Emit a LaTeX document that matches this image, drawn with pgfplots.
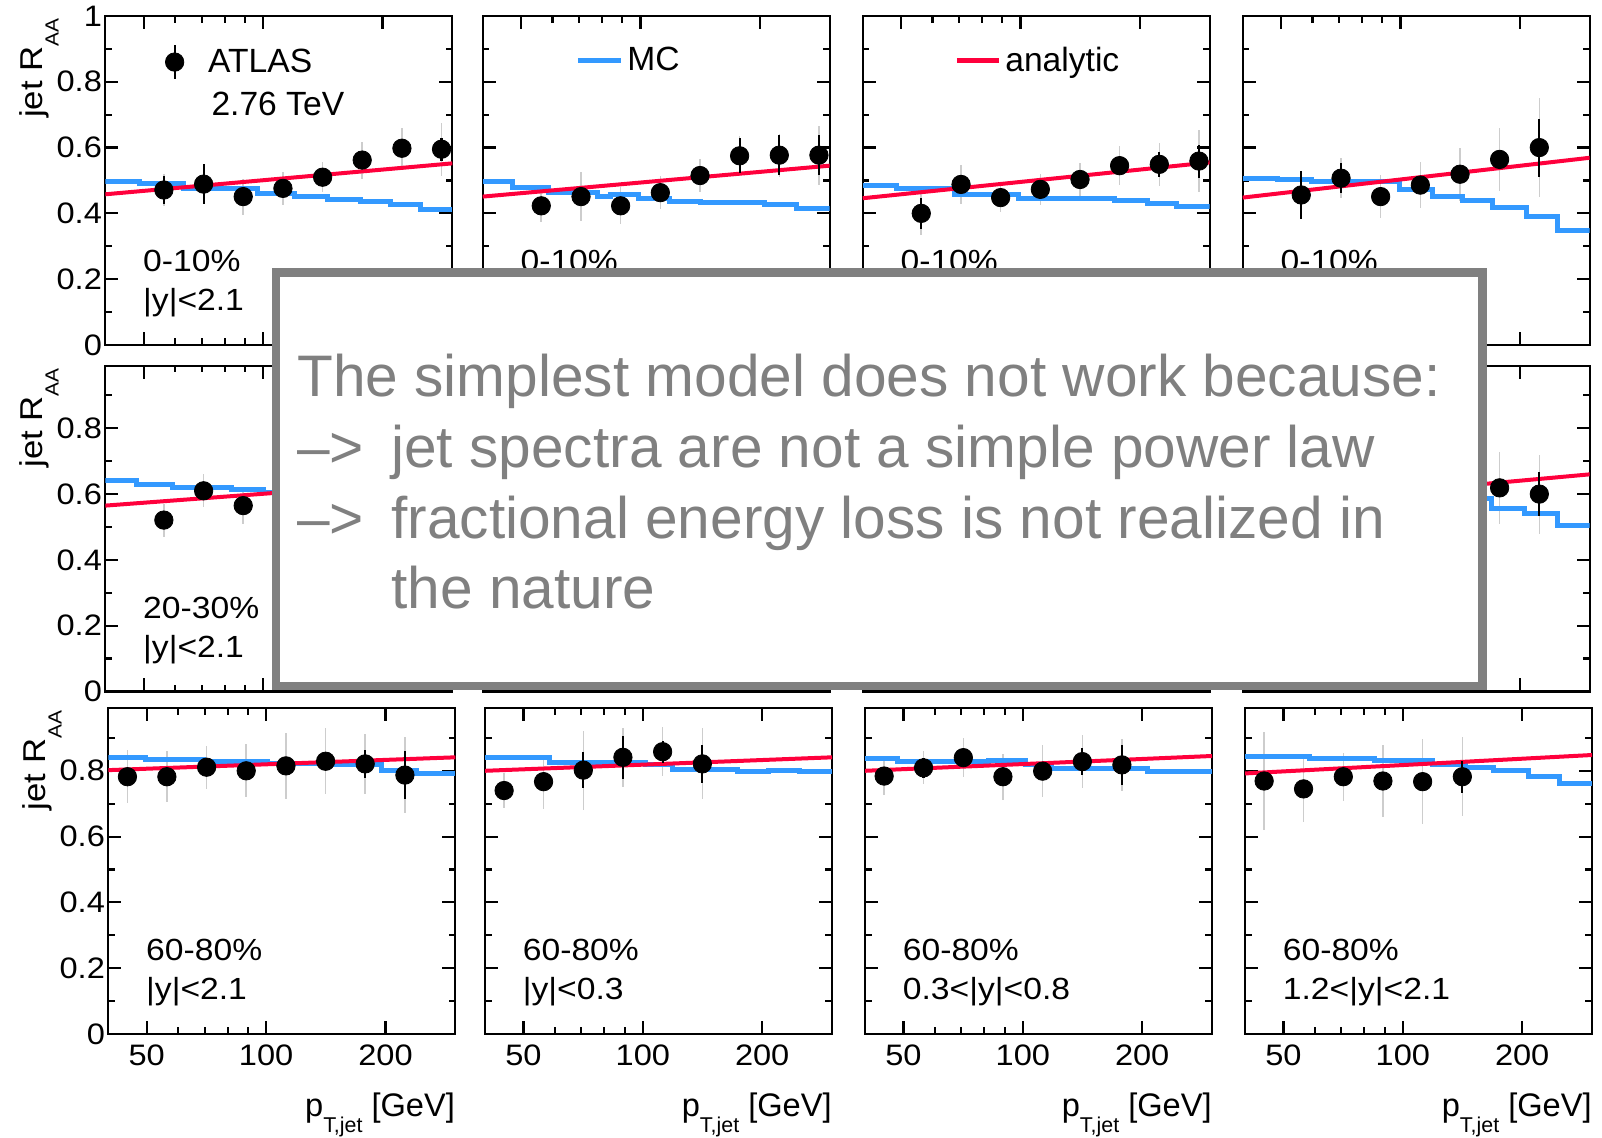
\documentclass[border=0pt]{standalone}
\usepackage{fontspec}
\setmainfont{Liberation Sans}
\newfontfamily\chartfont[FakeStretch=1.1]{Liberation Sans}
\usepackage{pgfplots}
\usepackage{pgfplotstable}
\pgfplotsset{compat=1.18}

\definecolor{mcblue}{RGB}{51,153,255}
\definecolor{anred}{RGB}{255,0,60}
\definecolor{boxgray}{RGB}{128,128,128}
\definecolor{sysgray}{RGB}{205,205,205}

\pgfplotstableread{
x y stat sys
56.2 0.471 0.042 0.050
70.8 0.489 0.062 0.060
89.1 0.451 0.020 0.055
112.2 0.476 0.015 0.050
141.3 0.510 0.020 0.045
177.8 0.562 0.015 0.056
223.9 0.598 0.015 0.060
281.8 0.595 0.035 0.080
}\dataA
\pgfplotstableread{
x y stat sys
56.2 0.423 0.015 0.050
70.8 0.451 0.015 0.075
89.1 0.423 0.015 0.056
112.2 0.463 0.015 0.050
141.3 0.515 0.015 0.050
177.8 0.575 0.053 0.060
223.9 0.577 0.060 0.065
281.8 0.577 0.060 0.090
}\dataB
\pgfplotstableread{
x y stat sys
56.2 0.400 0.046 0.066
70.8 0.488 0.030 0.058
89.1 0.448 0.015 0.045
112.2 0.473 0.015 0.047
141.3 0.503 0.015 0.050
177.8 0.545 0.015 0.060
223.9 0.549 0.038 0.066
281.8 0.559 0.050 0.095
}\dataC
\pgfplotstableread{
x y stat sys
56.2 0.456 0.073 0.073
70.8 0.507 0.045 0.060
89.1 0.451 0.015 0.065
112.2 0.486 0.015 0.070
141.3 0.519 0.015 0.080
177.8 0.564 0.015 0.095
223.9 0.600 0.088 0.150
}\dataD
\pgfplotstableread{
x y stat sys
56.2 0.521 0.015 0.050
70.8 0.610 0.015 0.050
89.1 0.565 0.015 0.055
}\dataE
\pgfplotstableread{
x y stat sys
177.8 0.619 0.020 0.110
223.9 0.600 0.067 0.120
}\dataH
\pgfplotstableread{
x y stat sys
44.7 0.782 0.015 0.080
56.2 0.782 0.015 0.077
70.8 0.811 0.015 0.065
89.1 0.800 0.015 0.080
112.2 0.815 0.015 0.100
141.3 0.829 0.015 0.100
177.8 0.821 0.043 0.090
223.9 0.787 0.072 0.115
}\dataI
\pgfplotstableread{
x y stat sys
44.7 0.740 0.030 0.054
56.2 0.767 0.020 0.082
70.8 0.802 0.055 0.120
89.1 0.841 0.065 0.090
112.2 0.858 0.033 0.075
141.3 0.821 0.057 0.108
}\dataJ
\pgfplotstableread{
x y stat sys
44.7 0.784 0.015 0.058
56.2 0.809 0.030 0.050
70.8 0.840 0.025 0.060
89.1 0.782 0.015 0.070
112.2 0.799 0.015 0.080
141.3 0.828 0.040 0.080
177.8 0.818 0.060 0.080
}\dataK
\pgfplotstableread{
x y stat sys
44.7 0.769 0.015 0.150
56.2 0.745 0.015 0.100
70.8 0.782 0.015 0.073
89.1 0.769 0.015 0.110
112.2 0.767 0.015 0.130
141.3 0.782 0.048 0.120
}\dataL

\pgfplotstableread{
x y
40 0.498
48.7 0.491
62.9 0.476
97 0.461
120 0.451
145 0.443
176 0.436
209 0.426
249 0.411
300 0.411
}\mcA
\pgfplotstableread{
x y
40 0.496
47.6 0.478
58.6 0.463
78.1 0.451
84.2 0.458
99 0.446
118.6 0.436
142 0.433
206 0.426
247 0.416
300 0.416
}\mcB
\pgfplotstableread{
x y
40 0.486
48.7 0.476
68.3 0.458
99 0.446
173 0.438
208.6 0.429
247 0.421
300 0.421
}\mcC
\pgfplotstableread{
x y
40 0.507
49 0.502
59.5 0.497
99.4 0.473
120.5 0.451
143 0.438
171 0.419
207.6 0.392
249 0.349
300 0.349
}\mcD
\pgfplotstableread{
x y
40 0.641
48 0.628
59 0.621
83 0.614
100 0.605
120 0.597
143 0.590
172 0.580
207 0.570
248 0.560
300 0.560
}\mcE
\pgfplotstableread{
x y
40 0.640
58 0.635
83 0.625
100 0.615
120 0.600
143 0.587
170 0.557
206 0.542
249 0.506
300 0.506
}\mcH
\pgfplotstableread{
x y
40 0.840
49.6 0.833
69.5 0.828
101 0.823
147 0.818
196 0.802
240 0.792
300 0.792
}\mcI
\pgfplotstableread{
x y
40 0.840
58.3 0.826
101.6 0.818
119 0.804
173 0.797
208 0.800
249 0.797
300 0.797
}\mcJ
\pgfplotstableread{
x y
40 0.836
48.4 0.828
81.9 0.830
101.6 0.818
118 0.808
206 0.797
300 0.797
}\mcK
\pgfplotstableread{
x y
40 0.843
58 0.836
84.8 0.831
118.9 0.818
143.9 0.811
169.6 0.802
207 0.782
248 0.760
300 0.760
}\mcL

\newcommand{\annfont}{\chartfont\fontsize{15.3}{17}\selectfont}
\newcommand{\ylab}{jet R\raisebox{-8pt}{\chartfont\fontsize{9.5}{10}\selectfont AA}}
\newcommand{\xlab}{p\raisebox{-7.7pt}{\fontsize{10.7}{12}\selectfont T,jet} [GeV]}

% #1 = extra axis options, #2 = body
\newcommand{\panel}[2]{%
\begin{axis}[scale only axis, width=173.5pt,
    xmode=log, xmin=40, xmax=300, ymin=0,
    axis line style={line width=1.1pt},
    every tick/.append style={black, line width=1.1pt},
    major tick length=6.5pt, minor tick length=3.3pt,
    xtick={50,100,200}, minor xtick={60,70,80,90},
    ytick={0,0.2,0.4,0.6,0.8,1}, minor ytick={0.1,0.3,0.5,0.7,0.9},
    xticklabels={}, yticklabels={},
    every tick label/.append style={font=\chartfont\fontsize{14.8}{16}\selectfont},
    every y tick label/.append style={inner sep=1.5pt},
    every x tick label/.append style={inner sep=1.5pt, yshift=-3.5pt},
    legend style={draw=none, fill=none, inner sep=0pt, anchor=west,
      font=\fontsize{16.8}{19}\selectfont},
    anchor=south west, #1]
#2
\end{axis}}

\newcommand{\panelcontent}[3]{%
  \addplot[draw=none, forget plot, error bars/y dir=both, error bars/y explicit,
    error bars/error mark=none,
    error bars/error bar style={draw=sysgray, solid, line width=0.8pt}]
    table[x=x, y=y, y error=sys] {#1};
  \addplot[const plot, color=mcblue, line width=2.5pt, forget plot] table[x=x, y=y] {#2};
  \addplot[color=anred, line width=2pt, forget plot] coordinates {#3};
  \addplot[only marks, mark=*, mark size=4.6pt, color=black, forget plot,
    error bars/y dir=both, error bars/y explicit, error bars/error mark=none,
    error bars/error bar style={draw=black, solid, line width=1.1pt}]
    table[x=x, y=y, y error=stat] {#1};
}

\begin{document}
\begin{tikzpicture}
\useasboundingbox (0,0) rectangle (801pt,569pt);

% ================= ROW 1 =================
\panel{at={(52.65pt,396.5pt)}, height=164.5pt, ymax=1,
  yticklabels={0,0.2,0.4,0.6,0.8,1}, ylabel={\ylab},
  every axis y label/.append style={font=\chartfont\fontsize{15.8}{18}\selectfont,
    at={([xshift=-31.3pt,yshift=-1pt]rel axis cs:0,1)}, anchor=base east, inner sep=0pt},
  legend style={at={(0.171,0.86)}}}{%
  \panelcontent{\dataA}{\mcA}{(40,0.458) (300,0.552)}
  \addlegendimage{legend image code/.code={
      \draw[black, line width=1.1pt] (0pt,-8.3pt) -- (0pt,8.3pt);
      \fill[black] (0pt,0pt) circle (4.6pt);
      \path[draw=none, fill=none] (-4.6pt,0pt) rectangle (14.8pt,0.1pt);}}
  \addlegendentry{ATLAS}
  \node[anchor=base west, inner sep=0pt, font=\fontsize{16.8}{19}\selectfont]
    at (rel axis cs:0.305,0.699) {2.76 TeV};
  \node[anchor=base west, inner sep=0pt, font=\annfont] at (rel axis cs:0.108,0.222) {0-10\%};
  \node[anchor=base west, inner sep=0pt, font=\annfont] at (rel axis cs:0.108,0.106) {|y|<2.1};
}

\panel{at={(241.35pt,396.5pt)}, height=164.5pt, ymax=1,
  legend style={at={(0.266,0.864)}}}{%
  \panelcontent{\dataB}{\mcB}{(40,0.451) (300,0.545)}
  \addlegendimage{legend image code/.code={
      \draw[mcblue, line width=2.5pt] (0pt,0pt) -- (21.5pt,0pt);}}
  \addlegendentry{MC}
  \node[anchor=base west, inner sep=0pt, font=\annfont] at (rel axis cs:0.108,0.222) {0-10\%};
  \node[anchor=base west, inner sep=0pt, font=\annfont] at (rel axis cs:0.108,0.106) {|y|<0.3};
}

\panel{at={(431.35pt,396.5pt)}, height=164.5pt, ymax=1,
  legend style={at={(0.263,0.864)}}}{%
  \panelcontent{\dataC}{\mcC}{(40,0.446) (300,0.555)}
  \addlegendimage{legend image code/.code={
      \draw[anred, line width=2.5pt] (0pt,0pt) -- (21pt,0pt);}}
  \addlegendentry{analytic}
  \node[anchor=base west, inner sep=0pt, font=\annfont] at (rel axis cs:0.108,0.222) {0-10\%};
  \node[anchor=base west, inner sep=0pt, font=\annfont] at (rel axis cs:0.108,0.106) {0.3<|y|<0.8};
}

\panel{at={(621.35pt,396.5pt)}, height=164.5pt, ymax=1}{%
  \panelcontent{\dataD}{\mcD}{(40,0.448) (300,0.569)}
  \node[anchor=base west, inner sep=0pt, font=\annfont] at (rel axis cs:0.108,0.222) {0-10\%};
  \node[anchor=base west, inner sep=0pt, font=\annfont] at (rel axis cs:0.108,0.106) {1.2<|y|<2.1};
}

% ================= ROW 2 =================
\panel{at={(52.65pt,223.25pt)}, height=162.855pt, ymax=0.99,
  yticklabels={0,0.2,0.4,0.6,0.8,1}, ylabel={\ylab},
  every axis y label/.append style={font=\chartfont\fontsize{15.8}{18}\selectfont,
    at={([xshift=-31.3pt,yshift=-1pt]rel axis cs:0,1)}, anchor=base east, inner sep=0pt}}{%
  \panelcontent{\dataE}{\mcE}{(40,0.565) (300,0.644)}
  \node[anchor=base west, inner sep=0pt, font=\annfont] at (rel axis cs:0.108,0.224) {20-30\%};
  \node[anchor=base west, inner sep=0pt, font=\annfont] at (rel axis cs:0.108,0.104) {|y|<2.1};
}

\panel{at={(241.35pt,223.25pt)}, height=162.855pt, ymax=0.99}{}
\panel{at={(431.35pt,223.25pt)}, height=162.855pt, ymax=0.99}{}

\panel{at={(621.35pt,223.25pt)}, height=162.855pt, ymax=0.99}{%
  \panelcontent{\dataH}{\mcH}{(40,0.564) (300,0.660)}
}

% ================= ROW 3 =================
\panel{at={(54.15pt,52pt)}, height=162.855pt, ymax=0.99,
  yticklabels={0,0.2,0.4,0.6,0.8,1}, ylabel={\ylab},
  every axis y label/.append style={font=\chartfont\fontsize{15.8}{18}\selectfont,
    at={([xshift=-31.3pt,yshift=-1pt]rel axis cs:0,1)}, anchor=base east, inner sep=0pt},
  xticklabels={50,100,200}, xlabel={\xlab},
  every axis x label/.append style={font=\fontsize{16.3}{18}\selectfont,
    at={([yshift=-41.5pt]rel axis cs:1,0)}, anchor=base east, inner sep=0pt}}{%
  \panelcontent{\dataI}{\mcI}{(40,0.802) (300,0.841)}
  \node[anchor=base west, inner sep=0pt, font=\annfont] at (rel axis cs:0.108,0.227) {60-80\%};
  \node[anchor=base west, inner sep=0pt, font=\annfont] at (rel axis cs:0.108,0.105) {|y|<2.1};
}

\panel{at={(242.5pt,52pt)}, height=162.855pt, ymax=0.99,
  xticklabels={50,100,200}, xlabel={\xlab},
  every axis x label/.append style={font=\fontsize{16.3}{18}\selectfont,
    at={([yshift=-41.5pt]rel axis cs:1,0)}, anchor=base east, inner sep=0pt}}{%
  \panelcontent{\dataJ}{\mcJ}{(40,0.800) (300,0.841)}
  \node[anchor=base west, inner sep=0pt, font=\annfont] at (rel axis cs:0.108,0.227) {60-80\%};
  \node[anchor=base west, inner sep=0pt, font=\annfont] at (rel axis cs:0.108,0.105) {|y|<0.3};
}

\panel{at={(432.5pt,52pt)}, height=162.855pt, ymax=0.99,
  xticklabels={50,100,200}, xlabel={\xlab},
  every axis x label/.append style={font=\fontsize{16.3}{18}\selectfont,
    at={([yshift=-41.5pt]rel axis cs:1,0)}, anchor=base east, inner sep=0pt}}{%
  \panelcontent{\dataK}{\mcK}{(40,0.800) (300,0.845)}
  \node[anchor=base west, inner sep=0pt, font=\annfont] at (rel axis cs:0.108,0.227) {60-80\%};
  \node[anchor=base west, inner sep=0pt, font=\annfont] at (rel axis cs:0.108,0.105) {0.3<|y|<0.8};
}

\panel{at={(622.5pt,52pt)}, height=162.855pt, ymax=0.99,
  xticklabels={50,100,200}, xlabel={\xlab},
  every axis x label/.append style={font=\fontsize{16.3}{18}\selectfont,
    at={([yshift=-41.5pt]rel axis cs:1,0)}, anchor=base east, inner sep=0pt}}{%
  \panelcontent{\dataL}{\mcL}{(40,0.792) (300,0.848)}
  \node[anchor=base west, inner sep=0pt, font=\annfont] at (rel axis cs:0.108,0.227) {60-80\%};
  \node[anchor=base west, inner sep=0pt, font=\annfont] at (rel axis cs:0.108,0.105) {1.2<|y|<2.1};
}

% ================= overlay box =================
\draw[boxgray, line width=4.15pt, fill=white] (138.1pt,226.05pt) rectangle (741.3pt,432.75pt);
\node[anchor=base west, inner sep=0pt, text=boxgray, font=\fontsize{29.3}{35}\selectfont]
  at (148.5pt,370.65pt) {The simplest model does not work because:};
\node[anchor=base west, inner sep=0pt, text=boxgray, font=\fontsize{29.3}{35}\selectfont]
  at (148.5pt,335pt) {\makebox[47pt][l]{–>}jet spectra are not a simple power law};
\node[anchor=base west, inner sep=0pt, text=boxgray, font=\fontsize{29.3}{35}\selectfont]
  at (148.5pt,299.85pt) {\makebox[47pt][l]{–>}fractional energy loss is not realized in};
\node[anchor=base west, inner sep=0pt, text=boxgray, font=\fontsize{29.3}{35}\selectfont]
  at (148.5pt,264.85pt) {\hspace*{47pt}the nature};
\end{tikzpicture}
\end{document}
